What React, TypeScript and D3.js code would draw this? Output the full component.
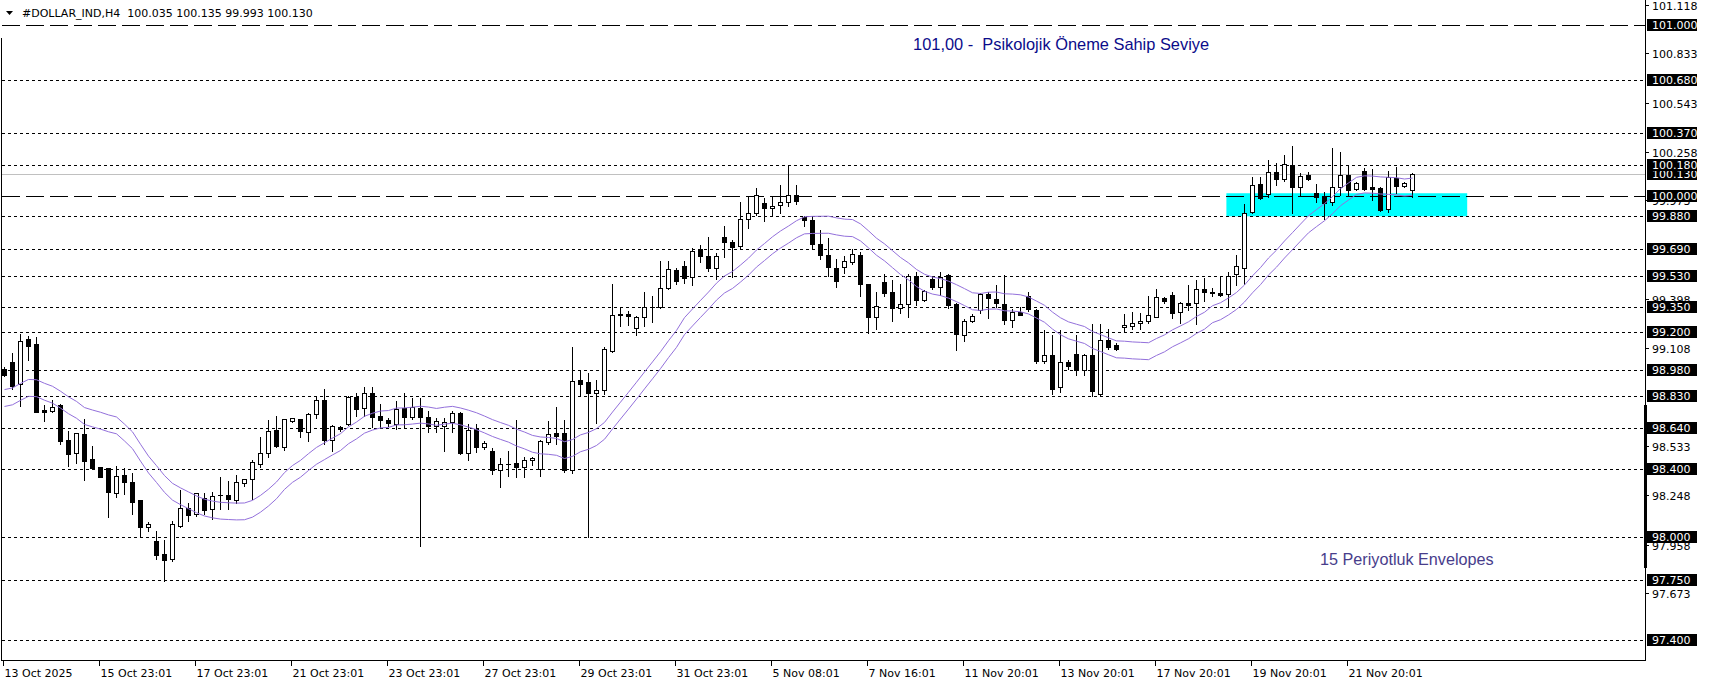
import React from 'react';
import * as d3 from 'd3';

// ---- DATA (H4 bars) ----
const opens = [
  98.989, 99.028, 98.896, 99.159, 99.132, 98.745, 98.741, 98.775, 98.570, 98.492,
  98.605, 98.457, 98.414, 98.404, 98.261, 98.365, 98.322, 98.219, 98.059, 97.979,
  97.902, 97.875, 98.068, 98.170, 98.135, 98.234, 98.164, 98.250, 98.248, 98.222,
  98.320, 98.340, 98.433, 98.496, 98.628, 98.531, 98.683, 98.691, 98.615, 98.722,
  98.804, 98.570, 98.648, 98.664, 98.824, 98.758, 98.845, 98.713, 98.687, 98.664,
  98.758, 98.703, 98.758, 98.707, 98.652, 98.652, 98.674, 98.726, 98.492, 98.635,
  98.527, 98.508, 98.395, 98.432, 98.436, 98.410, 98.453, 98.400, 98.559, 98.609,
  98.609, 98.395, 98.921, 98.911, 98.843, 98.862, 99.093, 99.307, 99.307, 99.225,
  99.292, 99.352, 99.352, 99.460, 99.565, 99.588, 99.526, 99.686, 99.647, 99.577,
  99.756, 99.729, 99.705, 99.863, 99.902, 99.957, 99.928, 99.945, 99.965, 100.004,
  99.877, 99.861, 99.717, 99.655, 99.580, 99.583, 99.612, 99.655, 99.481, 99.290,
  99.493, 99.434, 99.343, 99.368, 99.528, 99.391, 99.514, 99.469, 99.534, 99.368,
  99.187, 99.270, 99.333, 99.427, 99.397, 99.368, 99.274, 99.317, 99.411, 99.333,
  99.032, 99.071, 98.880, 99.027, 99.075, 98.982, 99.069, 98.840, 99.157, 99.124,
  99.230, 99.239, 99.253, 99.268, 99.292, 99.399, 99.422, 99.321, 99.374, 99.370,
  99.452, 99.434, 99.432, 99.424, 99.540, 99.580, 99.906, 100.068, 100.008, 100.142,
  100.096, 100.183, 100.049, 100.121, 100.018, 99.998, 99.965, 100.049, 100.121, 100.037,
  100.146, 100.049, 100.043, 99.920, 100.107, 100.057, 100.035,
];
const highs = [
  99.000, 99.077, 99.190, 99.179, 99.175, 98.775, 98.804, 98.784, 98.622, 98.613,
  98.693, 98.535, 98.414, 98.404, 98.418, 98.404, 98.375, 98.222, 98.092, 98.039,
  97.988, 98.096, 98.277, 98.203, 98.261, 98.258, 98.267, 98.355, 98.330, 98.365,
  98.343, 98.453, 98.589, 98.687, 98.710, 98.695, 98.702, 98.696, 98.726, 98.830,
  98.869, 98.660, 98.654, 98.830, 98.843, 98.879, 98.882, 98.781, 98.699, 98.797,
  98.847, 98.816, 98.816, 98.742, 98.699, 98.699, 98.742, 98.732, 98.664, 98.664,
  98.566, 98.523, 98.465, 98.508, 98.687, 98.469, 98.473, 98.570, 98.683, 98.761,
  98.687, 99.116, 98.980, 98.960, 98.921, 99.116, 99.483, 99.350, 99.327, 99.296,
  99.434, 99.415, 99.620, 99.616, 99.577, 99.620, 99.694, 99.713, 99.760, 99.668,
  99.824, 99.740, 99.961, 100.000, 100.045, 99.990, 100.000, 100.064, 100.175, 100.064,
  99.881, 99.873, 99.799, 99.752, 99.629, 99.645, 99.690, 99.670, 99.485, 99.436,
  99.544, 99.505, 99.481, 99.540, 99.553, 99.450, 99.528, 99.553, 99.544, 99.372,
  99.280, 99.310, 99.430, 99.436, 99.475, 99.534, 99.339, 99.352, 99.436, 99.339,
  99.212, 99.183, 99.212, 99.036, 99.183, 99.075, 99.247, 99.247, 99.222, 99.138,
  99.310, 99.321, 99.315, 99.413, 99.452, 99.405, 99.438, 99.380, 99.477, 99.510,
  99.516, 99.458, 99.526, 99.555, 99.653, 99.951, 100.111, 100.111, 100.209, 100.193,
  100.238, 100.293, 100.135, 100.140, 100.068, 100.023, 100.277, 100.258, 100.180, 100.082,
  100.160, 100.154, 100.049, 100.146, 100.166, 100.082, 100.135,
];
const lows = [
  98.945, 98.872, 98.769, 99.038, 98.736, 98.683, 98.736, 98.546, 98.418, 98.437,
  98.336, 98.404, 98.355, 98.121, 98.238, 98.254, 98.140, 98.008, 98.039, 97.877,
  97.745, 97.860, 98.059, 98.098, 98.125, 98.137, 98.109, 98.164, 98.164, 98.199,
  98.300, 98.228, 98.414, 98.472, 98.527, 98.511, 98.677, 98.586, 98.562, 98.699,
  98.547, 98.504, 98.621, 98.660, 98.713, 98.713, 98.648, 98.648, 98.654, 98.635,
  98.644, 98.693, 97.950, 98.615, 98.615, 98.504, 98.615, 98.488, 98.453, 98.498,
  98.518, 98.371, 98.293, 98.361, 98.356, 98.352, 98.426, 98.361, 98.547, 98.547,
  98.381, 98.375, 98.827, 98.000, 98.673, 98.839, 99.083, 99.239, 99.243, 99.184,
  99.239, 99.264, 99.346, 99.452, 99.483, 99.487, 99.477, 99.610, 99.561, 99.512,
  99.643, 99.526, 99.688, 99.811, 99.889, 99.850, 99.883, 99.897, 99.941, 99.951,
  99.824, 99.688, 99.629, 99.532, 99.467, 99.548, 99.602, 99.411, 99.198, 99.222,
  99.411, 99.267, 99.313, 99.290, 99.358, 99.382, 99.456, 99.417, 99.345, 99.099,
  99.153, 99.261, 99.313, 99.286, 99.352, 99.247, 99.231, 99.300, 99.325, 99.021,
  99.021, 98.840, 98.850, 98.988, 98.949, 98.949, 98.830, 98.830, 99.105, 99.099,
  99.200, 99.218, 99.218, 99.253, 99.292, 99.374, 99.282, 99.253, 99.331, 99.249,
  99.385, 99.413, 99.413, 99.350, 99.477, 99.483, 99.897, 99.984, 99.994, 100.062,
  100.088, 99.897, 100.004, 100.092, 99.965, 99.867, 99.945, 100.004, 100.004, 100.033,
  100.033, 99.975, 99.910, 99.906, 100.018, 100.049, 99.993,
];
const closes = [
  98.954, 98.888, 99.151, 99.120, 98.736, 98.736, 98.761, 98.566, 98.488, 98.609,
  98.449, 98.404, 98.355, 98.267, 98.359, 98.326, 98.209, 98.062, 98.078, 97.900,
  97.867, 98.078, 98.170, 98.131, 98.258, 98.160, 98.242, 98.246, 98.228, 98.326,
  98.340, 98.439, 98.496, 98.622, 98.535, 98.691, 98.697, 98.621, 98.722, 98.804,
  98.570, 98.652, 98.633, 98.824, 98.752, 98.845, 98.707, 98.687, 98.668, 98.752,
  98.703, 98.761, 98.703, 98.650, 98.683, 98.678, 98.726, 98.492, 98.629, 98.527,
  98.555, 98.395, 98.430, 98.428, 98.410, 98.453, 98.465, 98.566, 98.605, 98.596,
  98.395, 98.918, 98.898, 98.843, 98.862, 99.102, 99.301, 99.301, 99.294, 99.292,
  99.352, 99.350, 99.460, 99.569, 99.499, 99.518, 99.678, 99.647, 99.577, 99.647,
  99.729, 99.698, 99.863, 99.899, 100.004, 99.926, 99.941, 99.965, 100.004, 99.967,
  99.861, 99.717, 99.655, 99.584, 99.502, 99.616, 99.661, 99.485, 99.290, 99.356,
  99.430, 99.343, 99.368, 99.528, 99.391, 99.440, 99.469, 99.524, 99.358, 99.192,
  99.270, 99.296, 99.423, 99.403, 99.372, 99.274, 99.317, 99.304, 99.339, 99.032,
  99.069, 98.870, 99.027, 99.001, 98.982, 99.069, 98.860, 99.157, 99.114, 99.105,
  99.245, 99.253, 99.270, 99.301, 99.405, 99.385, 99.315, 99.370, 99.362, 99.452,
  99.438, 99.432, 99.419, 99.532, 99.588, 99.900, 100.062, 99.988, 100.142, 100.096,
  100.189, 100.049, 100.117, 100.096, 99.994, 99.955, 100.049, 100.121, 100.033, 100.076,
  100.037, 100.037, 99.916, 100.111, 100.057, 100.076, 100.130,
];
// closes of the 14 bars before the visible window (needed for the 15-period envelope)
const priorCloses = [98.74, 98.76, 98.77, 98.76, 99.05, 99.02, 99.0, 98.98, 99.01, 98.99, 98.62, 98.55, 98.5, 98.54];

const envPeriod = 15;
const envDeviation = 0.0005;

const dateLabels = [
  '13 Oct 2025', '15 Oct 23:01', '17 Oct 23:01', '21 Oct 23:01', '23 Oct 23:01',
  '27 Oct 23:01', '29 Oct 23:01', '31 Oct 23:01', '5 Nov 08:01', '7 Nov 16:01',
  '11 Nov 20:01', '13 Nov 20:01', '17 Nov 20:01', '19 Nov 20:01', '21 Nov 20:01',
];
const barsPerLabel = 12;

// visible automatic price-scale labels (the ones hidden under level boxes are omitted)
const priceTicks = [
  '101.118', '100.833', '100.543', '100.258', '99.973', '99.398',
  '99.108', '98.533', '98.248', '97.958', '97.673',
];
const dashedLevels = [101.0, 100.0];
const dottedLevels = [100.68, 100.37, 100.18, 99.88, 99.69, 99.53, 99.35, 99.2, 98.98, 98.83, 98.64, 98.4, 98.0, 97.75, 97.4];
const currentPrice = 100.13;
const zoneBars = [152.8, 182.9];
const zonePrices = [100.015, 99.88];

const FONT = '"DejaVu Sans", Tahoma, sans-serif';
const TXT_FONT = '"Liberation Sans", Arial, sans-serif';

export default function App() {
  const W = 1709;
  const H = 684;
  const plotRight = 1645;
  const plotBottom = 660;
  const x = d3.scaleLinear().domain([-0.5, 205.125]).range([0, plotRight]);
  const y = d3.scaleLinear().domain([97.283, 101.146]).range([plotBottom, 0]);
  const cr = (v: number) => Math.round(v) + 0.5;

  const allCloses = priorCloses.concat(closes);
  const ma = closes.map((_, i) => d3.mean(allCloses.slice(i + priorCloses.length - envPeriod + 1, i + priorCloses.length + 1)) as number);
  const upper = ma.map((m, i) => ({ i, v: m * (1 + envDeviation) }));
  const lower = ma.map((m, i) => ({ i, v: m * (1 - envDeviation) }));
  const line = d3.line<{ i: number; v: number }>().x(d => x(d.i) + 0.5).y(d => y(d.v));

  const fmt = d3.format('.3f');
  const boxLevels = [...dashedLevels, ...dottedLevels];

  return (
    <svg width={W} height={H} style={{ position: 'absolute', left: 0, top: 0, display: 'block', background: '#fff' }}>
      <rect x={0} y={0} width={W} height={H} fill="#fff" />
      {/* zone */}
      <rect
        x={x(zoneBars[0])}
        y={y(zonePrices[0])}
        width={x(zoneBars[1]) - x(zoneBars[0])}
        height={y(zonePrices[1]) - y(zonePrices[0])}
        fill="#00FFFF"
      />
      {/* current price line */}
      <line x1={2} x2={plotRight} y1={cr(y(currentPrice))} y2={cr(y(currentPrice))} stroke="#C0C0C0" strokeWidth={1} shapeRendering="crispEdges" />
      {/* level lines */}
      {dottedLevels.map((p, k) => (
        <line key={'d' + k} x1={2} x2={plotRight} y1={cr(y(p))} y2={cr(y(p))} stroke="#000" strokeWidth={1} strokeDasharray="3,3" shapeRendering="crispEdges" />
      ))}
      {dashedLevels.map((p, k) => (
        <line key={'L' + k} x1={2} x2={plotRight} y1={cr(y(p))} y2={cr(y(p))} stroke="#000" strokeWidth={1} strokeDasharray="18,6" shapeRendering="crispEdges" />
      ))}
      {/* candles */}
      <g shapeRendering="crispEdges">
        {closes.map((c, i) => {
          const o = opens[i];
          const xc = Math.round(x(i));
          const yh = Math.round(y(highs[i]));
          const yl = Math.round(y(lows[i]));
          const top = Math.round(y(Math.max(o, c)));
          const bot = Math.round(y(Math.min(o, c)));
          const bull = c >= o;
          return (
            <g key={i}>
              <line x1={xc + 0.5} x2={xc + 0.5} y1={yh} y2={yl + 1} stroke="#000" strokeWidth={1} />
              {bot - top < 1 ? (
                <line x1={xc - 2} x2={xc + 3} y1={top + 0.5} y2={top + 0.5} stroke="#000" strokeWidth={1} />
              ) : (
                <rect x={xc - 1.5} y={top + 0.5} width={4} height={bot - top} fill={bull ? '#fff' : '#000'} stroke="#000" strokeWidth={1} />
              )}
            </g>
          );
        })}
      </g>
      {/* envelopes */}
      <path d={line(upper) || ''} fill="none" stroke="#9370DB" strokeWidth={1} />
      <path d={line(lower) || ''} fill="none" stroke="#9370DB" strokeWidth={1} />

      {/* annotations */}
      <text x={x(113.63)} y={y(100.853)} fontFamily={TXT_FONT} fontSize={16.4} fill="#0b0b8a" style={{ whiteSpace: 'pre' }}>
        {'101,00 -  Psikolojik Öneme Sahip Seviye'}
      </text>
      <text x={x(164.5)} y={y(97.838)} fontFamily={TXT_FONT} fontSize={16.2} fill="#483D8B" style={{ whiteSpace: 'pre' }}>
        {'15 Periyotluk Envelopes'}
      </text>

      {/* frame */}
      <line x1={1.5} x2={1.5} y1={38} y2={plotBottom} stroke="#000" shapeRendering="crispEdges" />
      <line x1={plotRight + 0.5} x2={plotRight + 0.5} y1={0} y2={plotBottom + 1} stroke="#000" shapeRendering="crispEdges" />
      <line x1={1} x2={plotRight + 1} y1={plotBottom + 0.5} y2={plotBottom + 0.5} stroke="#000" shapeRendering="crispEdges" />
      <rect x={1644} y={405} width={3} height={163} fill="#000" />

      {/* header */}
      <path d="M6,11 L13,11 L9.5,15 Z" fill="#000" />
      <text x={22} y={17} fontFamily={FONT} fontSize={11} fill="#000" style={{ whiteSpace: 'pre' }}>
        {'#DOLLAR_IND,H4  ' + [opens[opens.length - 1], highs[highs.length - 1], lows[lows.length - 1], closes[closes.length - 1]].map(v => fmt(v)).join(' ')}
      </text>

      {/* price axis ticks */}
      {priceTicks.map((t, k) => {
        const yy = cr(y(parseFloat(t)));
        return (
          <g key={'t' + k}>
            <line x1={plotRight} x2={plotRight + 4} y1={yy} y2={yy} stroke="#000" shapeRendering="crispEdges" />
            <text x={1652} y={yy + 4} fontFamily={FONT} fontSize={11} fill="#000">{t}</text>
          </g>
        );
      })}
      {/* current price label */}
      {(() => {
        const yy = Math.round(y(currentPrice));
        return (
          <g>
            <rect x={1647} y={yy - 6} width={50} height={12} fill="#000" />
            <text x={1652} y={yy + 4} fontFamily={FONT} fontSize={11} fill="#fff">{fmt(currentPrice)}</text>
          </g>
        );
      })()}
      {boxLevels.map((p, k) => {
        const yy = Math.round(y(p));
        return (
          <g key={'b' + k}>
            <rect x={1647} y={yy - 6} width={50} height={12} fill="#000" />
            <text x={1652} y={yy + 4} fontFamily={FONT} fontSize={11} fill="#fff">{fmt(p)}</text>
          </g>
        );
      })}

      {/* time axis */}
      {dateLabels.map((lab, k) => {
        const xx = Math.round(x(k * barsPerLabel)) - 0.5;
        return (
          <g key={'x' + k}>
            <line x1={xx} x2={xx} y1={plotBottom} y2={plotBottom + 6} stroke="#000" shapeRendering="crispEdges" />
            <text x={xx + 1} y={677} fontFamily={FONT} fontSize={11} fill="#000">{lab}</text>
          </g>
        );
      })}
    </svg>
  );
}
